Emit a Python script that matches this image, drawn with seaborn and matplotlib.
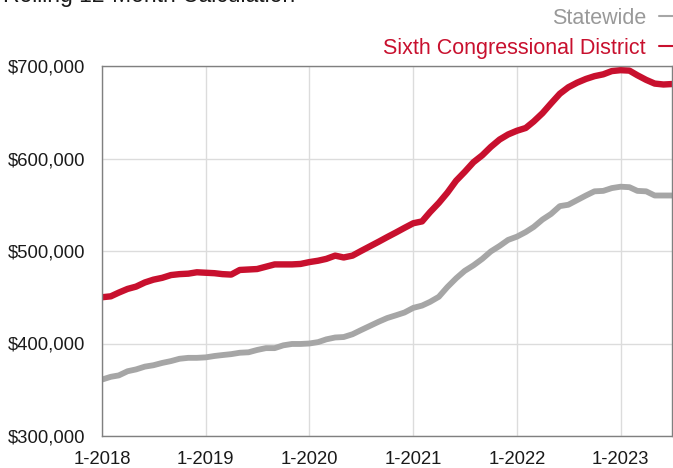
import seaborn as sns
import pandas as pd
import matplotlib.pyplot as plt
import matplotlib.ticker as mticker
from matplotlib.lines import Line2D

meses = pd.date_range('2018-01-01', '2023-07-01', freq='MS')

sexto_distrito = [
    450, 451, 455, 459, 461.5, 466, 469, 471, 474, 475, 475.5, 477,
    476.5, 476, 475, 474.5, 479.5, 480, 480.5, 483, 485.5, 485.5, 485.5, 486,
    488, 489.5, 491.5, 495, 493, 495, 500, 505, 510, 515, 520, 525,
    530, 532, 542, 552, 563, 576, 585.5, 596, 603.5, 612.5, 620.5, 626,
    630, 633, 640, 649, 659.5, 670, 677, 682, 686, 689, 691, 694.5,
    695.5, 695, 690, 685, 681, 680, 680.5,
]

estadual = [
    361, 364, 365.5, 370, 372, 375, 376.5, 379, 381, 383.5, 384.5, 384.5,
    385, 386.5, 387.5, 388.5, 390, 390.5, 393, 395, 395, 398, 399.5, 399.5,
    400, 401.5, 404.5, 406.5, 407, 410, 414.5, 419, 423.5, 427.5, 430.5, 433.5,
    438.5, 441, 445, 450.5, 461, 470.5, 478.5, 484.5, 491.5, 499.5, 505.5, 512,
    515.5, 520.5, 526, 534, 540, 548.5, 550, 555, 560, 564.5, 565, 568,
    569.5, 569, 565, 564.5, 560, 560, 560,
]

base = pd.DataFrame({'mes': meses, 'Sixth Congressional District': sexto_distrito,
                     'Statewide': estadual})

sns.set_style('white')
plt.rcParams['font.family'] = ['Liberation Sans', 'DejaVu Sans']

vermelho = '#C8102E'
cinza = '#A6A6A6'

fig = plt.figure(figsize=(6.73, 4.68), dpi=100)
ax = fig.add_axes([102 / 673, 1 - 436 / 468, 570 / 673, 370 / 468])

sns.lineplot(x='mes', y='Statewide', data=base, color=cinza, linewidth=4.2, ax=ax)
sns.lineplot(x='mes', y='Sixth Congressional District', data=base, color=vermelho,
             linewidth=4.6, ax=ax)

ax.set_xlim(pd.Timestamp('2018-01-01'), pd.Timestamp('2023-07-01'))
ax.set_ylim(300, 700)
anos = pd.date_range('2018-01-01', '2023-01-01', freq='YS')
ax.set_xticks(anos)
ax.set_xticklabels([f'1-{a.year}' for a in anos])
ax.set_yticks([300, 400, 500, 600, 700])
ax.yaxis.set_major_formatter(mticker.FuncFormatter(lambda v, p: f'${v * 1000:,.0f}'))
ax.set_xlabel('')
ax.set_ylabel('')

ax.grid(True, color='#dcdcdc', linewidth=1)
ax.set_axisbelow(True)
for lado in ax.spines.values():
    lado.set_color('#808080')
    lado.set_linewidth(1)
ax.tick_params(axis='both', direction='out', length=5, width=1, color='#808080',
               labelsize=13.3, labelcolor='#1a1a1a')
ax.tick_params(axis='y', pad=7)
ax.tick_params(axis='x', pad=6)

legenda = [Line2D([0], [0], color=cinza, lw=1.5),
           Line2D([0], [0], color=vermelho, lw=1.5)]
fig.legend(legenda, ['Statewide', 'Sixth Congressional District'],
           loc='upper right', bbox_to_anchor=(673 / 673, 1 - 8 / 468),
           frameon=False, markerfirst=False, fontsize=15.5,
           labelcolor=['#999999', vermelho], handlelength=0.65,
           handletextpad=0.6, labelspacing=0.4, borderpad=0, borderaxespad=0)

fig.text(0.004, 1 - 2 / 468, 'Rolling 12-Month Calculation', fontsize=16.5,
         color='#1a1a1a', ha='left', va='baseline')

plt.savefig('out.png', dpi=100)
